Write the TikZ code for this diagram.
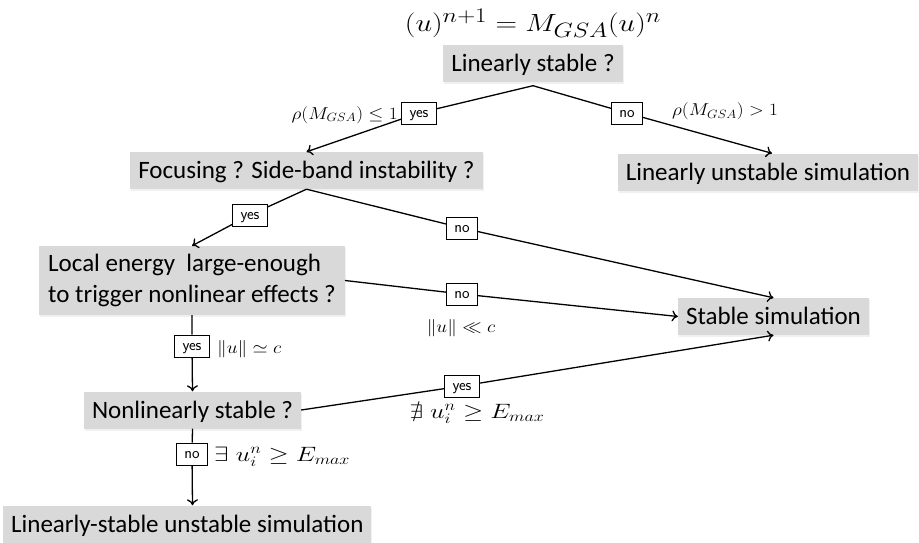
\documentclass[tikz,border=0pt]{standalone}
\usepackage{amssymb}
\usepackage[no-math]{fontspec}
\newfontfamily\boxfont{Carlito}
\usepackage{graphicx}
\usetikzlibrary{arrows.meta,shadows,calc}
\newcommand{\hstretch}[1]{\scalebox{1.12}[1]{#1}}
\newcommand{\estretch}[1]{\scalebox{1.25}[1]{#1}}
\tikzset{
  gbox/.style={fill=black!15, inner xsep=8pt, inner ysep=0pt, minimum height=37pt,
    text height=16pt, text depth=0pt, font=\boxfont\fontsize{25}{31}\selectfont,
    drop shadow={opacity=0.12, shadow xshift=1pt, shadow yshift=-2pt}},
  lab/.style={draw, fill=white, line width=0.8pt, font=\sffamily\fontsize{16}{16}\selectfont,
    inner xsep=8pt, inner ysep=0pt, minimum height=22pt, text height=10pt, text depth=1pt},
  mathlab/.style={inner sep=0pt, font=\fontsize{18}{18}\selectfont},
  emath/.style={inner sep=0pt, font=\fontsize{19.5}{19.5}\selectfont},
  conn/.style={line width=1.3pt},
  arr/.style={conn, -{To[length=6pt,width=11pt]}},
}
\begin{document}
\begin{tikzpicture}[x=1pt,y=-1pt]
\useasboundingbox (0,0) rectangle (919,543);
% title
\node[inner sep=0pt, anchor=base, font=\fontsize{28}{28}\selectfont] (title) at (533,32)
  {\scalebox{1.2}[1]{$(u)^{n+1}=M_{GSA}(u)^n$}};
% decision / result boxes
\node[gbox] (ls) at (533,64) {Linearly stable ?};
\node[gbox] (lus) at (768,172) {Linearly unstable simulation};
\node[gbox] (foc) at (306.5,170.5) {Focusing ? Side-band instability ?};
\node[gbox, align=left, text height={}, text depth={}, minimum height=69pt, inner xsep=9pt] (le) at (192,280.5)
  {Local energy~ large-enough\\to trigger nonlinear effects ?};
\node[gbox] (ss) at (773.5,316.5) {Stable simulation};
\node[gbox] (ns) at (192.5,410) {Nonlinearly stable ?};
\node[gbox, anchor=west] (lsu) at (3,524) {Linearly-stable unstable simulation};
% yes / no boxes
\node[lab] (y1) at (419,113) {yes};
\node[lab] (n1) at (627,113) {no};
\node[lab] (y2) at (250,215) {yes};
\node[lab] (n2) at (462,228) {no};
\node[lab] (n3) at (462,294) {no};
\node[lab] (y3) at (192,346) {yes};
\node[lab] (y4) at (462,386) {yes};
\node[lab] (n4) at (192,454) {no};
% math labels
\node[mathlab, anchor=base east] (m1) at (398,119) {\hstretch{$\rho(M_{GSA})\leq 1$}};
\node[mathlab, anchor=base west] (m2) at (672,116) {\hstretch{$\rho(M_{GSA})>1$}};
\node[mathlab, anchor=base] (m3) at (461,332) {\hstretch{$\|u\|\ll c$}};
\node[mathlab, anchor=base west] (m4) at (217,353) {\hstretch{$\|u\|\simeq c$}};
\node[emath, anchor=base] (m5) at (477,418) {\estretch{$\nexists\;u_i^n\geq E_{max}$}};
\node[emath, anchor=base west] (m6) at (214,461) {\estretch{$\exists\;u_i^n\geq E_{max}$}};
% connectors
\draw[arr] ([yshift=-3pt]ls.south) -- (y1) -- (foc.north);
\draw[arr] ([yshift=-3pt]ls.south) -- (n1) -- ([xshift=4pt]lus.north);
\draw[arr] (foc.south) -- (y2) -- (le.north);
\draw[arr] (foc.south) -- (n2) -- (ss.north);
\draw[arr] (le.east) -- (n3) -- (ss.west);
\draw[arr] (le.south) -- (y3) -- (ns.north);
\draw[arr] (ns.east) -- (y4) -- (ss.south);
\draw[arr] (ns.south) -- (n4) -- (ns.south |- lsu.north);
\end{tikzpicture}
\end{document}
